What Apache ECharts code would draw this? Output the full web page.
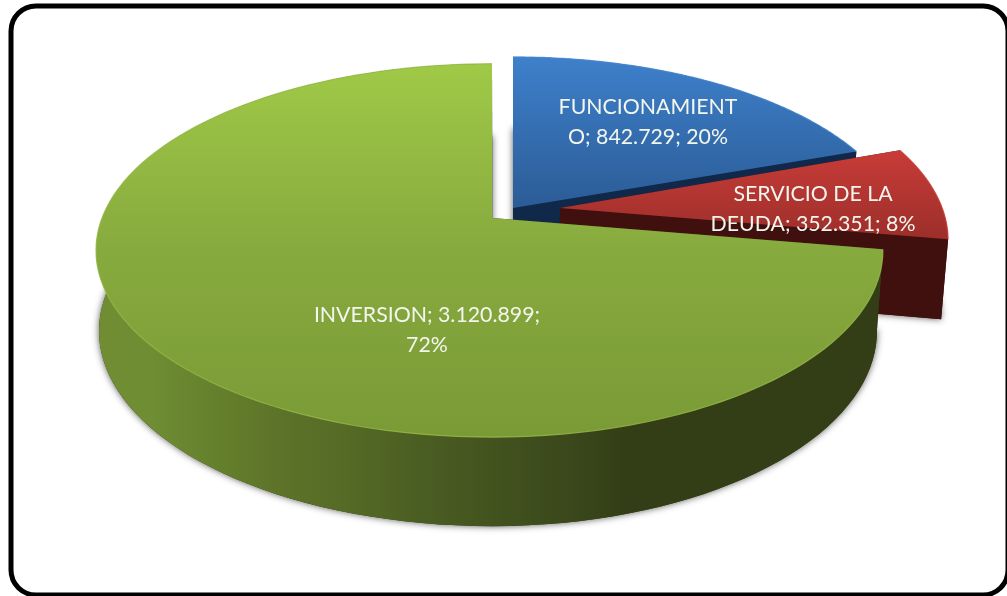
<!DOCTYPE html>
<html>
<head>
<meta charset="utf-8">
<style>html,body{margin:0;padding:0;background:#fff}#c{width:1007px;height:596px}</style>
<script src="https://cdn.jsdelivr.net/npm/echarts@6/dist/echarts.min.js"></script>
</head>
<body>
<div id="c"></div>
<script>
// Data
var categories = ["FUNCIONAMIENTO", "SERVICIO DE LA DEUDA", "INVERSION"];
var values = [842729, 352351, 3120899];
var labels = ["FUNCIONAMIENT\nO; 842.729; 20%", "SERVICIO DE LA\nDEUDA; 352.351; 8%", "INVERSION; 3.120.899;\n72%"];

// Layout and style, per slice
var apex = [[513, 208], [560, 208], [492, 218]];
var scaleXY = [[0.99, 0.98], [0.98, 1], [1, 1]];
var rightScale = [1, 1, 0.987];
var labelPos = [[648, 122], [813, 209], [427, 330]];
var topStops = [
  [[0, '#3e80cb'], [1, '#2b5c96']],
  [[0, '#c83c38'], [1, '#9c2e2a']],
  [[0, '#a0c947'], [0.5, '#87aa3e'], [1, '#7a9a36']]
];
var topRange = [[57, 208], [150, 240], [64, 437]];
var wallStops = [
  [[0, '#10294a'], [1, '#10294a']],
  [[0, '#40100e'], [1, '#40100e']],
  [[0, '#708d34'], [0.07, '#6f8d33'], [0.14, '#66822d'], [0.24, '#5c7228'], [0.31, '#566b26'], [0.41, '#4b5e22'], [0.51, '#42521e'], [0.6, '#3a481b'], [0.67, '#343e16'], [1, '#333e16']]
];
var rimColor = ['#4a8ad0', '#d04a44', '#97bb48'];

var total = values.reduce(function (a, b) { return a + b; }, 0);
var K = 0.174, A = 390, B = 181, STEPS = 120;

function rad(i) {
  var s = 0;
  for (var j = 0; j < i; j++) s += values[j];
  return s / total * Math.PI * 2;
}
function project(i, t) {
  var u = Math.sin(t), v = -Math.cos(t), w = 1 - K * v;
  var xs = scaleXY[i][0] * (u > 0 ? rightScale[i] : 1);
  return [apex[i][0] + xs * A * u / w, apex[i][1] + scaleXY[i][1] * B * v / w];
}
function lower(p) {
  var dx = p[0] - 513;
  return [513 + (dx > 0 ? 0.984 : 0.9928) * dx, p[1] + 72 + 0.0456 * (p[1] - 64)];
}
function grad(x, y, x2, y2, stops) {
  return new echarts.graphic.LinearGradient(x, y, x2, y2, stops.map(function (s) {
    return { offset: s[0], color: s[1] };
  }), true);
}

var chart = echarts.init(document.getElementById('c'), null, { renderer: 'canvas' });
chart.setOption({
  animation: false,
  backgroundColor: '#fff',
  graphic: [{
    type: 'rect', silent: true, z: 0,
    shape: { x: 11, y: 6, width: 997, height: 589, r: 25 },
    style: { fill: '#fff', stroke: '#000', lineWidth: 5 }
  }],
  series: [{
    type: 'custom',
    coordinateSystem: 'none',
    silent: true,
    clip: false,
    data: values.map(function (v, i) { return { name: categories[i], value: [v, i] }; }),
    renderItem: function (params, api) {
      var i = api.value(1);
      var a0 = rad(i), a1 = a0 + api.value(0) / total * Math.PI * 2;
      var rim = [];
      for (var s = 0; s <= STEPS; s++) rim.push(project(i, a0 + (a1 - a0) * s / STEPS));
      var c = apex[i];
      var top = [c].concat(rim);
      var bot = top.map(lower);
      var rimLow = rim.map(lower);
      var base = 10 + i * 10;
      var wallFill = grad(96, 0, 885, 0, wallStops[i]);
      var dark = wallStops[i][wallStops[i].length - 1][1];
      var kids = [];
      // footprint with soft shadow
      kids.push({ type: 'polygon', z2: base, shape: { points: bot }, style: { fill: dark, shadowBlur: 7, shadowColor: 'rgba(0,0,0,0.65)' } });
      // radial faces
      [rim[0], rim[rim.length - 1]].forEach(function (p) {
        kids.push({ type: 'polygon', z2: base + 1, shape: { points: [c, p, lower(p), lower(c)] }, style: { fill: dark } });
      });
      // outer wall
      kids.push({ type: 'polygon', z2: base + 2, shape: { points: rim.concat(rimLow.slice().reverse()) }, style: { fill: wallFill } });
      // top face
      kids.push({ type: 'polygon', z2: base + 3, shape: { points: top }, style: { fill: grad(0, topRange[i][0], 0, topRange[i][1], topStops[i]) } });
      // rim highlight
      kids.push({ type: 'polyline', z2: base + 4, shape: { points: rim }, style: { fill: 'none', stroke: rimColor[i], lineWidth: 1.2, opacity: 0.8 } });
      // label
      kids.push({
        type: 'text', z2: 100,
        style: {
          text: labels[i], x: labelPos[i][0], y: labelPos[i][1],
          align: 'center', verticalAlign: 'middle',
          fill: '#f3f6ee', font: '21.3px Lato', lineHeight: 30.5
        }
      });
      return { type: 'group', children: kids };
    }
  }]
});
</script>
</body>
</html>
